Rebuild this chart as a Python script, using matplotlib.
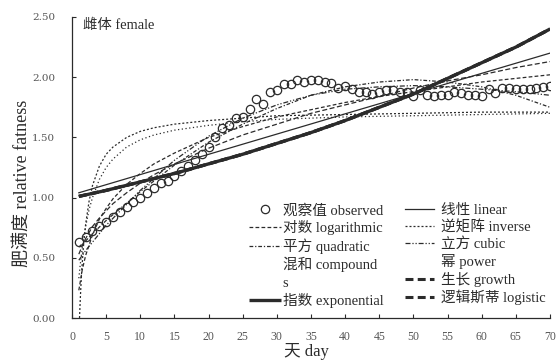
import matplotlib.pyplot as plt
from matplotlib.lines import Line2D

plt.rcParams['font.family'] = ['Liberation Serif', 'Noto Sans CJK SC']

# observed relative fatness, day 1..70
day = list(range(1, 71))
observed = [0.63, 0.67, 0.72, 0.76, 0.80, 0.84, 0.88, 0.92, 0.96, 1.00,
            1.04, 1.08, 1.12, 1.14, 1.18, 1.22, 1.26, 1.31, 1.36, 1.42,
            1.50, 1.58, 1.60, 1.66, 1.67, 1.74, 1.82, 1.78, 1.88, 1.89,
            1.94, 1.94, 1.98, 1.96, 1.98, 1.98, 1.96, 1.95, 1.91, 1.93,
            1.90, 1.88, 1.88, 1.86, 1.88, 1.89, 1.89, 1.88, 1.88, 1.84,
            1.89, 1.85, 1.84, 1.85, 1.85, 1.88, 1.87, 1.85, 1.85, 1.84,
            1.90, 1.87, 1.91, 1.91, 1.90, 1.90, 1.90, 1.91, 1.92, 1.93]

# fitted curves
lin_x = [1, 70]
lin_y = [1.04, 2.20]

exp_x = [1, 5, 10, 15, 20, 25, 30, 35, 40, 45, 50, 55, 60, 65, 70]
exp_y = [1.01, 1.06, 1.13, 1.20, 1.28, 1.36, 1.45, 1.54, 1.64, 1.75, 1.86, 1.99, 2.12, 2.25, 2.40]

grid = [1, 1.5, 2, 3, 4, 5, 6, 8, 10, 12, 15, 20, 25, 30, 35, 40, 45, 50, 55, 60, 65, 70]
log_y = [0.23, 0.40, 0.52, 0.69, 0.82, 0.91, 0.99, 1.11, 1.20, 1.28, 1.37, 1.50, 1.59, 1.67,
         1.73, 1.79, 1.84, 1.88, 1.92, 1.96, 1.99, 2.02]
pow_y = [0.53, 0.60, 0.66, 0.76, 0.83, 0.89, 0.95, 1.04, 1.12, 1.19, 1.28, 1.41, 1.52, 1.61,
         1.70, 1.77, 1.84, 1.91, 1.97, 2.02, 2.08, 2.13]

inv_x = [1.1, 1.2, 1.3, 1.4, 1.6, 1.8, 2, 2.5, 3, 4, 5, 6, 8, 10, 12, 15, 20, 25, 30, 40, 50, 60, 70]
inv_y = [0.00, 0.14, 0.26, 0.37, 0.54, 0.67, 0.78, 0.97, 1.10, 1.26, 1.36, 1.42, 1.50, 1.55,
         1.58, 1.61, 1.64, 1.66, 1.68, 1.69, 1.70, 1.71, 1.71]

s_x = [1, 1.2, 1.5, 2, 2.5, 3, 4, 5, 6, 8, 10, 12, 15, 20, 25, 30, 40, 50, 60, 70]
s_y = [0.33, 0.44, 0.58, 0.76, 0.90, 1.00, 1.15, 1.25, 1.32, 1.42, 1.48, 1.52, 1.56, 1.60,
       1.63, 1.65, 1.67, 1.68, 1.69, 1.70]

poly_x = [1, 2, 3, 5, 10, 15, 20, 25, 30, 35, 40, 45, 50, 55, 60, 65, 70]
quad_y = [0.59, 0.64, 0.70, 0.81, 1.05, 1.27, 1.46, 1.61, 1.74, 1.85, 1.92, 1.96, 1.98, 1.96, 1.92, 1.85, 1.75]
cub_y = [0.48, 0.56, 0.63, 0.77, 1.06, 1.31, 1.51, 1.66, 1.77, 1.85, 1.90, 1.92, 1.93, 1.92, 1.90, 1.88, 1.85]

c = '#2b2b2b'
fig = plt.figure(figsize=(5.59, 3.62), dpi=100)
ax = fig.add_axes([72/559, 44/362, 478/559, 301/362])

l_exp, = ax.plot(exp_x, exp_y, color=c, lw=2.4, solid_capstyle='butt')
l_gro, = ax.plot(exp_x, exp_y, color=c, lw=2.2, dashes=(2.6, 1.4))
l_lgs, = ax.plot(exp_x, exp_y, color=c, lw=2.2, dashes=(2.6, 1.4))
l_lin, = ax.plot(lin_x, lin_y, color=c, lw=0.9)
l_log, = ax.plot(grid, log_y, color=c, lw=0.9, dashes=(3, 1.8))
l_pow, = ax.plot(grid, pow_y, color=c, lw=0.9, dashes=(4, 2))
l_inv, = ax.plot(inv_x, inv_y, color=c, lw=0.9, dashes=(1.6, 1.6))
ax.plot(s_x, s_y, color=c, lw=0.9, dashes=(1, 2))
l_quad, = ax.plot(poly_x, quad_y, color=c, lw=0.9, dashes=(3, 1.5, 1, 1.5))
l_cub, = ax.plot(poly_x, cub_y, color=c, lw=0.9, dashes=(4, 1.5, 1, 1.5, 1, 1.5))
l_obs, = ax.plot(day, observed, 'o', ms=6, mfc='none', mec=c, mew=0.9, zorder=5)

ax.set_xlim(0, 70)
ax.set_ylim(0, 2.5)
ax.set_xticks(range(0, 71, 5))
ax.set_yticks([0, 0.5, 1.0, 1.5, 2.0, 2.5])
ax.set_yticklabels(['%.2f' % v for v in [0, 0.5, 1.0, 1.5, 2.0, 2.5]], family='DejaVu Serif', fontsize=7.5)
ax.tick_params(axis='x', labelsize=8.5, pad=9)
ax.tick_params(direction='in', length=3, width=0.8, colors=c, labelcolor='#555555')
ax.tick_params(axis='y', pad=12)
for s in ['top', 'right']:
    ax.spines[s].set_visible(False)
for s in ['left', 'bottom']:
    ax.spines[s].set_color(c)
    ax.spines[s].set_linewidth(0.9)

fig.text(83/559, 1 - 25/362, '雌体 female', fontsize=10.4, ha='left', va='center', color=c)
fig.text(306/559, 1 - 352/362, '天 day', fontsize=12, ha='center', va='center', color=c)
fig.text(22/559, 1 - 183/362, '肥满度 relative fatness', fontsize=13, rotation=90,
         ha='center', va='center', color=c)

blank = Line2D([], [], linestyle='none')
leg1 = ax.legend([l_obs, l_log, l_quad, blank, l_exp],
                 ['观察值 observed', '对数 logarithmic', '平方 quadratic', '混和 compound\ns', '指数 exponential'],
                 loc='upper left', bbox_to_anchor=(249/559, 1 - 204/362), bbox_transform=fig.transFigure,
                 frameon=False, fontsize=10.5, handlelength=2.2, handletextpad=0.1, labelspacing=0.2,
                 borderpad=0, borderaxespad=0, numpoints=1, labelcolor=c)
leg1.get_texts()[3].set_linespacing(1.45)
ax.add_artist(leg1)
ax.legend([l_lin, l_inv, l_cub, blank, l_gro, l_lgs],
          ['线性 linear', '逆矩阵 inverse', '立方 cubic', '幂 power', '生长 growth', '逻辑斯蒂 logistic'],
          loc='upper left', bbox_to_anchor=(405/559, 1 - 204/362), bbox_transform=fig.transFigure,
          frameon=False, fontsize=10.5, handlelength=2.0, handletextpad=0.45, labelspacing=0.2,
          borderpad=0, borderaxespad=0, labelcolor=c)

fig.savefig('out.png', dpi=100)
